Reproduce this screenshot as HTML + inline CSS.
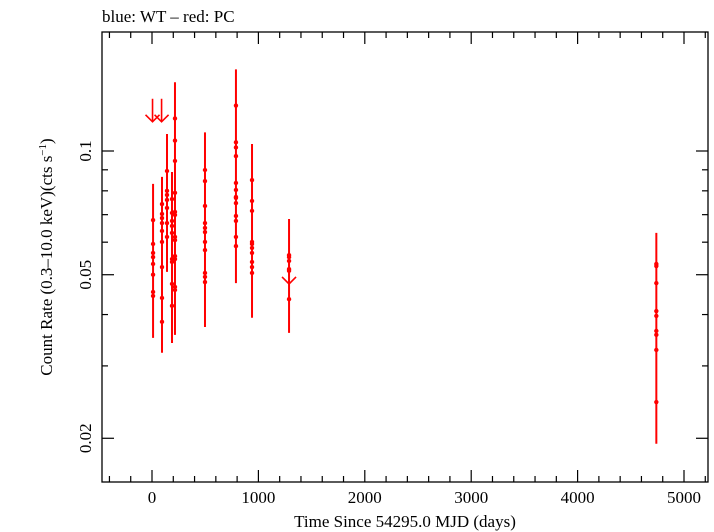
<!DOCTYPE html>
<html><head><meta charset="utf-8"><style>
html,body{margin:0;padding:0;background:#fff;}
svg{display:block;font-family:"Liberation Serif",serif;}
</style></head><body>
<svg id="chart" width="714" height="532" viewBox="0 0 714 532" xmlns="http://www.w3.org/2000/svg">
<text x="102" y="22" font-size="17">blue: WT – red: PC</text>
<rect x="102" y="32" width="606" height="450" fill="none" stroke="#000" stroke-width="1.3"/>
<g id="axes"></g>
<g id="marks"></g>
<text x="405" y="527" font-size="17" text-anchor="middle">Time Since 54295.0 MJD (days)</text>
<text transform="translate(52,257) rotate(-90)" font-size="17" text-anchor="middle">Count Rate (0.3–10.0 keV)(cts s<tspan dy="-6" font-size="11">−1</tspan><tspan dy="6">)</tspan></text>
</svg>
<script>
const xTicks=[0,1000,2000,3000,4000,5000];
const yTickVals=[0.02,0.05,0.1];
const yTickLabels=["0.02","0.05","0.1"];
const yMinor=[0.02,0.03,0.04,0.05,0.06,0.07,0.08,0.09,0.1,0.2];
// points: time (days), rate
const ptTime=[10,10,10,10,10,10,10,10,
94,94,94,94,94,94,94,94,94,
141,141,141,141,141,141,141,
188,188,188,188,188,188,188,188,188,
216,216,216,216,216,216,216,216,216,216,216,216,
498,498,498,498,498,498,498,498,498,498,498,
789,789,789,789,789,789,789,789,789,789,789,789,789,
940,940,940,940,940,940,940,940,940,940,
1288,1288,1288,1288,1288,1288,
4740,4740,4740,4740,4740,4740,4740,4740,4740];
const ptRate=[0.0679,0.0594,0.0565,0.0552,0.0531,0.0500,0.0454,0.0444,
0.0743,0.0703,0.0687,0.0668,0.0639,0.0601,0.0522,0.0439,0.0384,
0.0894,0.0800,0.0782,0.0760,0.0727,0.0668,0.0618,
0.0764,0.0707,0.0676,0.0657,0.0632,0.0546,0.0537,0.0475,0.0420,
0.120,0.106,0.0946,0.0791,0.0711,0.0699,0.0618,0.0607,0.0555,0.0546,0.0467,0.0459,
0.0899,0.0845,0.0735,0.0668,0.0650,0.0635,0.0601,0.0574,0.0505,0.0494,0.0480,
0.129,0.105,0.102,0.0972,0.0836,0.0804,0.0773,0.0769,0.0747,0.0695,0.0676,0.0618,0.0587,
0.0850,0.0756,0.0715,0.0601,0.0594,0.0581,0.0565,0.0537,0.0522,0.0505,
0.0558,0.0552,0.0540,0.0516,0.0511,0.0436,
0.0531,0.0525,0.0477,0.0408,0.0397,0.0365,0.0357,0.0328,0.0245];
// error bar extents per observation group
const errTime=[10,94,141,188,216,498,789,940,1288,4740];
const errHigh=[0.0832,0.0865,0.110,0.0889,0.147,0.111,0.158,0.104,0.0683,0.0632];
const errLow=[0.0351,0.0323,0.0508,0.0341,0.0357,0.0373,0.0477,0.0393,0.0361,0.0194];
// upper limits
const ulTime=[5,90,1288];
const ulRate=[0.134,0.134,0.054];

const X0=102,X1=708,Y0=32,Y1=482;
const xs=t=>152+t*0.1064;
const ys=v=>151+411*Math.log10(0.1/v);
const NS="http://www.w3.org/2000/svg";
const ax=document.getElementById('axes'),mk=document.getElementById('marks');
function mkEl(tag,attrs,parent){const e=document.createElementNS(NS,tag);for(const k in attrs)e.setAttribute(k,attrs[k]);parent.appendChild(e);return e;}
// x ticks
for(let t=-400;t<=5200;t+=200){
  const x=xs(t);const major=t%1000===0;const L=major?12:6;
  let e=mkEl('line',{x1:x,x2:x,y1:Y1,y2:Y1-L,stroke:'#000','stroke-width':1.2},ax);
  
  e=mkEl('line',{x1:x,x2:x,y1:Y0,y2:Y0+L,stroke:'#000','stroke-width':1.2},ax);
  
}
xTicks.forEach(t=>{const e=mkEl('text',{x:xs(t),y:503,'font-size':17,'text-anchor':'middle'},ax);e.textContent=String(t);
  });
yMinor.forEach(v=>{const y=ys(v);if(y<Y0||y>Y1)return;const major=yTickVals.includes(v);const L=major?12:6;
  let e=mkEl('line',{x1:X0,x2:X0+L,y1:y,y2:y,stroke:'#000','stroke-width':1.2},ax);
  
  e=mkEl('line',{x1:X1,x2:X1-L,y1:y,y2:y,stroke:'#000','stroke-width':1.2},ax);
  });
yTickVals.forEach((v,i)=>{const y=ys(v);const e=mkEl('text',{transform:`translate(91,${y}) rotate(-90)`,'font-size':17,'text-anchor':'middle'},ax);e.textContent=yTickLabels[i];
  });
// error bars
errTime.forEach((t,i)=>{const e=mkEl('line',{x1:xs(t),x2:xs(t),y1:ys(errHigh[i]),y2:ys(errLow[i]),stroke:'#f00','stroke-width':2},mk);
  });
ptTime.forEach((t,i)=>{const e=mkEl('circle',{cx:xs(t),cy:ys(ptRate[i]),r:2.2,fill:'#f00'},mk);
  });
ulTime.forEach((t,i)=>{const x=xs(t),y=ys(ulRate[i]);
  const g=mkEl('g',{stroke:'#f00','stroke-width':1.6,fill:'none'},mk);
  
  mkEl('line',{x1:x,x2:x,y1:y,y2:y+23},g);
  mkEl('polyline',{points:`${x-7},${y+16} ${x},${y+23} ${x+7},${y+16}`},g);});
</script>
</body></html>
